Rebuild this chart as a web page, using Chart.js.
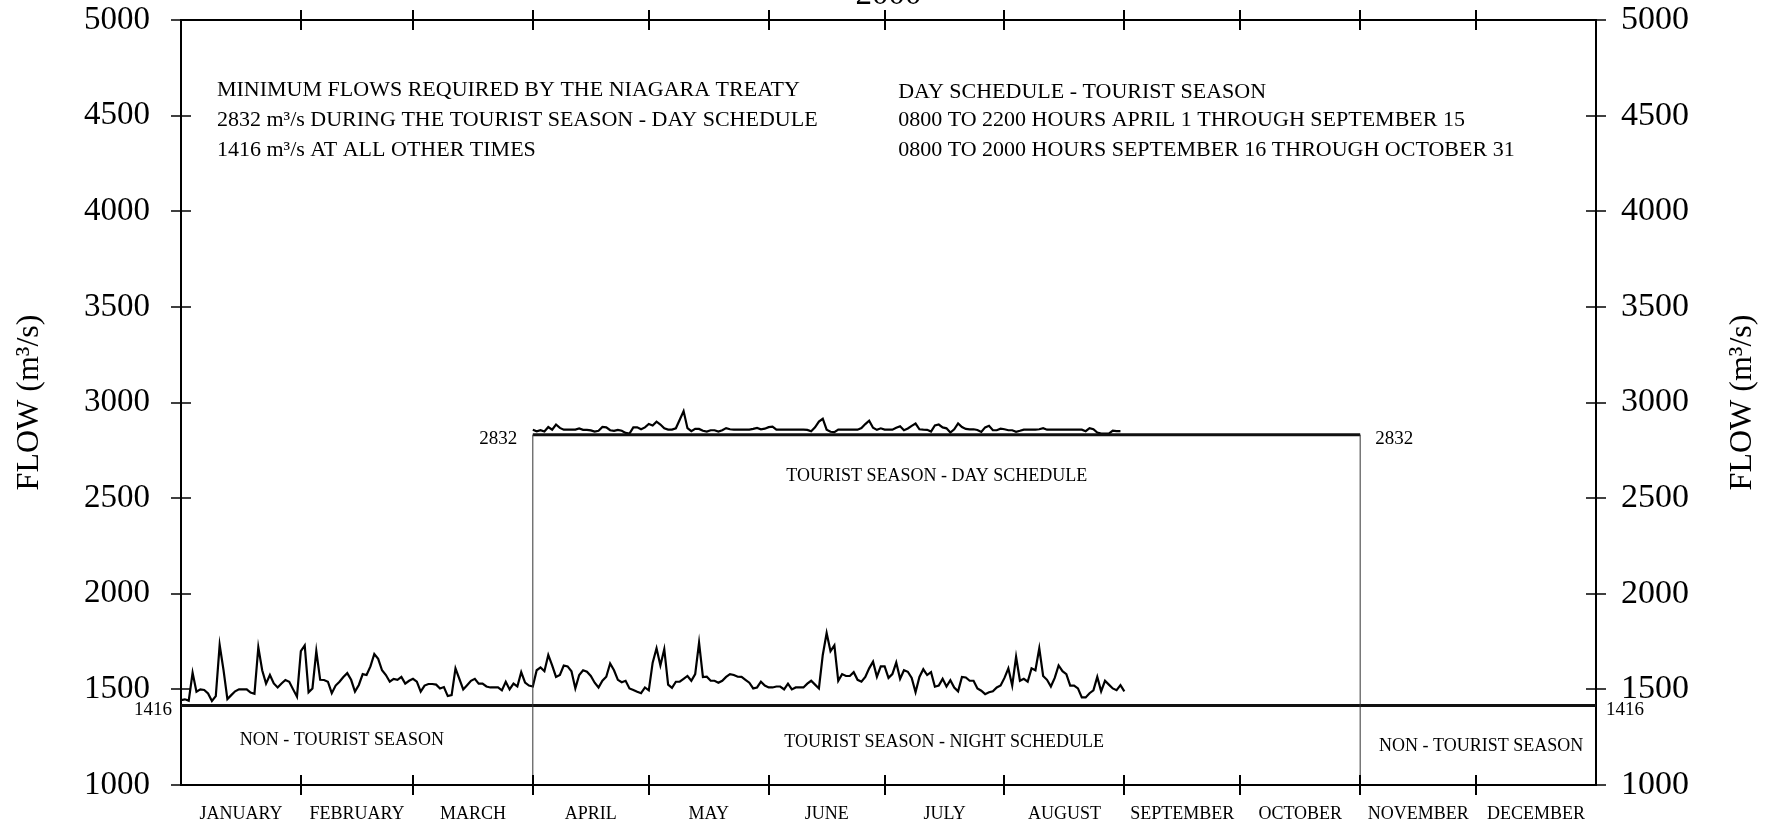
<!DOCTYPE html>
<html>
<head>
<meta charset="utf-8">
<title>Niagara flows 2000</title>
<script src="https://cdn.jsdelivr.net/npm/chart.js@4.4.1/dist/chart.umd.min.js"></script>
<style>
  html, body { margin: 0; padding: 0; background: #fff; }
  #wrap { width: 1775px; height: 826px; position: relative; }
</style>
</head>
<body>
<div id="wrap"><canvas id="flowChart"></canvas></div>
<script>
// --- data -----------------------------------------------------------
const yearLabel = '2000';
const monthNames = ['JANUARY', 'FEBRUARY', 'MARCH', 'APRIL', 'MAY', 'JUNE', 'JULY',
    'AUGUST', 'SEPTEMBER', 'OCTOBER', 'NOVEMBER', 'DECEMBER'];
const monthStarts = [0, 31, 60, 91, 121, 152, 182, 213, 244, 274, 305, 335, 366];
const yTicks = [1000, 1500, 2000, 2500, 3000, 3500, 4000, 4500, 5000];

const dayMinFlow = 2832;     // tourist season, day schedule
const nightMinFlow = 1416;   // all other times
const seasonStartDay = 91;   // April 1
const seasonEndDay = 305;    // November 1

// daily flows (m3/s), night / non-tourist schedule, from Jan 1
const nightStartDay = 0;
const nightFlows = [
    1444, 1448, 1441, 1587, 1488, 1500, 1497, 1479, 1439, 1465,
    1732, 1601, 1449, 1470, 1490, 1500, 1500, 1500, 1483, 1477,
    1720, 1600, 1530, 1575, 1531, 1510, 1531, 1549, 1540, 1500,
    1462, 1700, 1730, 1485, 1505, 1700, 1550, 1549, 1540, 1480,
    1520, 1540, 1565, 1585, 1550, 1488, 1523, 1580, 1575, 1620,
    1685, 1660, 1600, 1575, 1540, 1555, 1550, 1565, 1530, 1545,
    1555, 1540, 1488, 1520, 1528, 1528, 1525, 1505, 1512, 1465,
    1470, 1610, 1555, 1500, 1522, 1545, 1555, 1530, 1530, 1515,
    1510, 1510, 1510, 1495, 1540, 1500, 1530, 1515, 1590, 1535,
    1520, 1515, 1600, 1615, 1595, 1680, 1625, 1565, 1575, 1625,
    1620, 1595, 1505, 1575, 1600, 1592, 1570, 1535, 1510, 1545,
    1566, 1635, 1600, 1550, 1537, 1545, 1505, 1497, 1488, 1480,
    1510, 1495, 1640, 1715, 1625, 1710, 1525, 1508, 1540, 1540,
    1555, 1570, 1545, 1580, 1744, 1564, 1566, 1545, 1545, 1535,
    1545, 1565, 1580, 1575, 1566, 1565, 1550, 1535, 1505, 1510,
    1540, 1520, 1510, 1510, 1515, 1515, 1500, 1530, 1500, 1510,
    1510, 1510, 1530, 1545, 1525, 1505, 1680, 1795, 1700, 1730,
    1545, 1580, 1570, 1570, 1590, 1550, 1540, 1565, 1610, 1645,
    1566, 1620, 1620, 1560, 1580, 1640, 1555, 1600, 1592, 1560,
    1485, 1565, 1605, 1575, 1590, 1514, 1520, 1555, 1515, 1548,
    1510, 1490, 1565, 1562, 1545, 1545, 1505, 1493, 1475, 1485,
    1490, 1510, 1520, 1560, 1610, 1520, 1670, 1545, 1555, 1540,
    1610, 1600, 1715, 1570, 1550, 1515, 1560, 1625, 1595, 1580,
    1520, 1520, 1505, 1458, 1458, 1480, 1495, 1565, 1490, 1545,
    1525, 1505, 1496, 1522, 1490
];

// daily flows (m3/s), tourist season day schedule, from April 1
const dayStartDay = 91;
const dayFlows = [
    2857, 2849, 2855, 2848, 2872, 2858, 2885, 2867, 2858, 2858,
    2858, 2858, 2864, 2857, 2857, 2854, 2848, 2852, 2872, 2870,
    2855, 2852, 2857, 2852, 2841, 2838, 2870, 2870, 2860, 2870,
    2888, 2880, 2900, 2885, 2865, 2858, 2858, 2865, 2910, 2955,
    2866, 2850, 2862, 2862, 2852, 2848, 2855, 2855, 2848, 2855,
    2866, 2860, 2858, 2858, 2858, 2858, 2858, 2862, 2867, 2860,
    2863, 2871, 2874, 2858, 2858, 2858, 2858, 2858, 2858, 2858,
    2858, 2857, 2850, 2870, 2900, 2915, 2858, 2847, 2845, 2858,
    2858, 2858, 2858, 2858, 2858, 2866, 2887, 2905, 2868, 2857,
    2865, 2858, 2858, 2858, 2868, 2876, 2855, 2864, 2878, 2890,
    2860, 2858, 2857, 2848, 2880, 2885, 2870, 2865, 2843, 2860,
    2891, 2872, 2862, 2860, 2860, 2856, 2846, 2870, 2878, 2855,
    2855, 2863, 2860, 2855, 2855, 2847, 2852, 2858, 2858, 2858,
    2858, 2860, 2866, 2858, 2858, 2858, 2858, 2858, 2858, 2858,
    2858, 2858, 2858, 2850, 2866, 2860, 2843, 2837, 2837, 2837,
    2853, 2850, 2850
];

// --- look -----------------------------------------------------------
const serif = "'Liberation Serif', 'Times New Roman', Times, serif";
const monthMids = monthNames.map((m, i) => (monthStarts[i] + monthStarts[i + 1]) / 2);

// notes placed in data units (day of year, flow)
const notes = [
    { text: 'MINIMUM FLOWS REQUIRED BY THE NIAGARA TREATY', x: 9.3, y: 4635, size: 22, align: 'left' },
    { text: '2832 m\u00b3/s DURING THE TOURIST SEASON - DAY SCHEDULE', x: 9.3, y: 4478, size: 22, align: 'left' },
    { text: '1416 m\u00b3/s AT ALL OTHER TIMES', x: 9.3, y: 4321, size: 22, align: 'left' },
    { text: 'DAY SCHEDULE - TOURIST SEASON', x: 185.5, y: 4625, size: 22, align: 'left' },
    { text: '0800 TO 2200 HOURS APRIL 1 THROUGH SEPTEMBER 15', x: 185.5, y: 4478, size: 22, align: 'left' },
    { text: '0800 TO 2000 HOURS SEPTEMBER 16 THROUGH OCTOBER 31', x: 185.5, y: 4321, size: 22, align: 'left' },
    { text: 'TOURIST SEASON - DAY SCHEDULE', x: 195.5, y: 2616, size: 18, align: 'center' },
    { text: 'NON - TOURIST SEASON', x: 41.6, y: 1235, size: 18, align: 'center' },
    { text: 'TOURIST SEASON - NIGHT SCHEDULE', x: 197.4, y: 1225, size: 18, align: 'center' },
    { text: 'NON - TOURIST SEASON', x: 336.3, y: 1204, size: 18, align: 'center' },
    { text: String(dayMinFlow), x: 87, y: 2808, size: 19, align: 'right' },
    { text: String(dayMinFlow), x: 308.9, y: 2808, size: 19, align: 'left' },
    { text: String(nightMinFlow), x: -2.3, y: 1390, size: 19, align: 'right' },
    { text: String(nightMinFlow), x: 368.6, y: 1390, size: 19, align: 'left' }
];

function toPoints(start, values) {
    return values.map((v, i) => ({ x: start + i, y: v }));
}

// keep the plot box fixed: no extra room for overhanging tick labels
function fixSize(prop, size) {
    return function(scale) {
        scale[prop] = size;
        scale.paddingTop = 0;
        scale.paddingBottom = 0;
        scale.paddingLeft = 0;
        scale.paddingRight = 0;
    };
}

const decorPlugin = {
    id: 'decor',
    afterDraw(chart) {
        const ctx = chart.ctx;
        const a = chart.chartArea;
        const x = chart.scales.x;
        const y = chart.scales.y;
        ctx.save();
        ctx.strokeStyle = '#000';
        ctx.lineWidth = 2;

        function seg(x1, y1, x2, y2) {
            ctx.beginPath();
            ctx.moveTo(x1, y1);
            ctx.lineTo(x2, y2);
            ctx.stroke();
        }

        // month ticks crossing top and bottom axes
        monthStarts.slice(1, -1).forEach(function(d) {
            const px = Math.round(x.getPixelForValue(d));
            seg(px, a.bottom - 10, px, a.bottom + 10);
            seg(px, a.top - 10, px, a.top + 10);
        });

        // flow ticks crossing left and right axes
        ctx.lineWidth = 1.5;
        y.ticks.forEach(function(t) {
            const py = Math.round(y.getPixelForValue(t.value));
            seg(a.left - 10, py, a.left + 10, py);
            seg(a.right - 10, py, a.right + 10, py);
        });

        // notes
        ctx.fillStyle = '#000';
        ctx.textBaseline = 'middle';
        notes.forEach(function(n) {
            ctx.font = n.size + 'px ' + serif;
            ctx.textAlign = n.align;
            ctx.fillText(n.text, x.getPixelForValue(n.x), y.getPixelForValue(n.y));
        });

        // year title, partly off the top edge
        ctx.font = '33px ' + serif;
        ctx.textAlign = 'center';
        ctx.textBaseline = 'alphabetic';
        ctx.fillText(yearLabel, (a.left + a.right) / 2, a.top - 16);

        // axis titles, both reading bottom to top
        ctx.font = '32px ' + serif;
        ctx.textBaseline = 'middle';
        [30, chart.width - 32].forEach(function(cx) {
            ctx.save();
            ctx.translate(cx, (a.top + a.bottom) / 2);
            ctx.rotate(-Math.PI / 2);
            ctx.fillText('FLOW (m\u00b3/s)', 0, 0);
            ctx.restore();
        });
        ctx.restore();
    }
};

const black = '#000';
const lineBase = { pointRadius: 0, tension: 0, fill: false };

new Chart(document.getElementById('flowChart'), {
    type: 'line',
    data: {
        datasets: [
            Object.assign({ data: [{ x: seasonStartDay, y: 1000 }, { x: seasonStartDay, y: dayMinFlow }],
                borderColor: '#333', borderWidth: 1 }, lineBase),
            Object.assign({ data: [{ x: seasonEndDay, y: 1000 }, { x: seasonEndDay, y: dayMinFlow }],
                borderColor: '#333', borderWidth: 1 }, lineBase),
            Object.assign({ data: [{ x: 0, y: nightMinFlow }, { x: 366, y: nightMinFlow }],
                borderColor: '#111', borderWidth: 3 }, lineBase),
            Object.assign({ data: [{ x: seasonStartDay, y: dayMinFlow }, { x: seasonEndDay, y: dayMinFlow }],
                borderColor: '#111', borderWidth: 3 }, lineBase),
            Object.assign({ data: toPoints(nightStartDay, nightFlows),
                borderColor: black, borderWidth: 2.2 }, lineBase),
            Object.assign({ data: toPoints(dayStartDay, dayFlows),
                borderColor: black, borderWidth: 2.2 }, lineBase)
        ]
    },
    options: {
        responsive: true,
        maintainAspectRatio: false,
        animation: false,
        layout: { padding: 0 },
        plugins: {
            legend: { display: false },
            tooltip: { enabled: false },
            title: { display: false }
        },
        scales: {
            x: {
                type: 'linear',
                position: 'bottom',
                min: 0,
                max: 366,
                grid: { display: false, drawTicks: false },
                border: { display: true, color: black, width: 2 },
                afterBuildTicks: function(scale) {
                    scale.ticks = monthMids.map(v => ({ value: v }));
                },
                ticks: {
                    autoSkip: false,
                    maxRotation: 0,
                    padding: 18,
                    color: black,
                    font: { family: serif, size: 18 },
                    callback: function(value, index) { return monthNames[index]; }
                },
                afterFit: fixSize('height', 41)
            },
            xTop: {
                type: 'linear',
                position: 'top',
                min: 0,
                max: 366,
                grid: { display: false, drawTicks: false },
                border: { display: true, color: black, width: 2 },
                ticks: { display: false },
                afterFit: fixSize('height', 20)
            },
            y: {
                type: 'linear',
                position: 'left',
                min: 1000,
                max: 5000,
                afterBuildTicks: function(scale) {
                    scale.ticks = yTicks.map(v => ({ value: v }));
                },
                grid: { display: false, drawTicks: false },
                border: { display: true, color: black, width: 2 },
                ticks: {
                    padding: 31,
                    color: black,
                    font: { family: serif, size: 33 },
                    callback: function(v) { return String(v); }
                },
                afterFit: fixSize('width', 181)
            },
            y2: {
                type: 'linear',
                position: 'right',
                min: 1000,
                max: 5000,
                afterBuildTicks: function(scale) {
                    scale.ticks = yTicks.map(v => ({ value: v }));
                },
                grid: { display: false, drawTicks: false },
                border: { display: true, color: black, width: 2 },
                ticks: {
                    padding: 25,
                    color: black,
                    font: { family: serif, size: 34 },
                    callback: function(v) { return String(v); }
                },
                afterFit: fixSize('width', 179)
            }
        }
    },
    plugins: [decorPlugin]
});
</script>
</body>
</html>
